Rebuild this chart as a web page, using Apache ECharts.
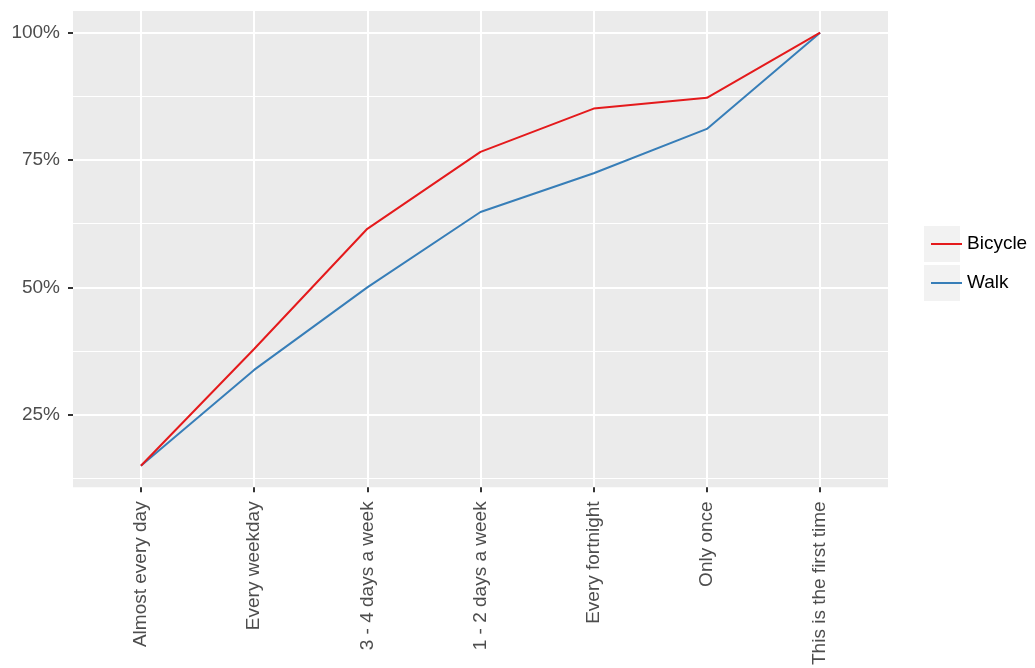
<!DOCTYPE html>
<html><head><meta charset="utf-8">
<script src="https://cdn.jsdelivr.net/npm/echarts@6/dist/echarts.min.js"></script>
<style>html,body{margin:0;padding:0;background:#fff}#c{width:1035px;height:668px}</style>
</head><body><div id="c"></div>
<script>
const categories = ["Almost every day","Every weekday","3 - 4 days a week","1 - 2 days a week","Every fortnight","Only once","This is the first time"];
const bicycle = [15, 37.9, 61.5, 76.6, 85.1, 87.2, 100];
const walk = [15, 33.8, 50, 64.8, 72.4, 81.1, 100];
const yMajor = [25, 50, 75, 100];
const yMinor = [12.5, 37.5, 62.5, 87.5];
const seriesNames = ["Bicycle", "Walk"];

const FONT = 'Liberation Sans, Arial, sans-serif';
const chart = echarts.init(document.getElementById('c'), null, {renderer: 'canvas'});
const xIdx = categories.map((c, i) => i);
const yMin = 10.75, yMax = 104.25;

chart.setOption({
  animation: false,
  textStyle: {fontFamily: FONT},
  grid: {left: 73, right: 147, top: 11, bottom: 179, show: true, backgroundColor: '#EBEBEB', borderWidth: 0, containLabel: false},
  legend: {
    orient: 'vertical', left: 926, top: 221, itemGap: 3, itemWidth: 31, itemHeight: 2,
    icon: 'rect',
    data: seriesNames,
    textStyle: {fontFamily: FONT, fontSize: 19, color: '#000', lineHeight: 36, padding: [0, 0, 0, 0]}
  },
  graphic: [
    {type: 'rect', shape: {x: 924, y: 226, width: 36, height: 36}, style: {fill: '#F2F2F2'}, z: 0},
    {type: 'rect', shape: {x: 924, y: 265, width: 36, height: 36}, style: {fill: '#F2F2F2'}, z: 0}
  ],
  xAxis: {
    type: 'value', min: -0.6, max: 6.6,
    axisLine: {show: false, onZero: false},
    axisTick: {show: true, customValues: xIdx, length: 5, lineStyle: {color: '#333', width: 2}},
    axisLabel: {customValues: xIdx, rotate: 90, margin: 14, fontSize: 19, color: '#4D4D4D', fontFamily: FONT,
      formatter: v => categories[Math.round(v)] || ''},
    splitLine: {show: true, lineStyle: {color: '#fff', width: 2}}
  },
  yAxis: [
    {type: 'value', min: yMin, max: yMax,
      axisLine: {show: false, onZero: false},
      axisTick: {show: true, customValues: yMajor, length: 5, lineStyle: {color: '#333', width: 2}},
      axisLabel: {customValues: yMajor, margin: 13, fontSize: 19, color: '#4D4D4D', fontFamily: FONT, formatter: v => v + '%'},
      splitLine: {show: true, lineStyle: {color: '#fff', width: 2}}
    },
    {type: 'value', min: yMin, max: yMax, position: 'left',
      axisLine: {show: false, onZero: false}, axisTick: {show: false, customValues: yMinor},
      axisLabel: {show: false, customValues: yMinor},
      splitLine: {show: true, lineStyle: {color: '#fff', width: 1}}
    }
  ],
  series: [
    {name: seriesNames[0], type: 'line', data: xIdx.map(i => [i, bicycle[i]]), symbol: 'none', lineStyle: {color: '#E41A1C', width: 2}, itemStyle: {color: '#E41A1C'}, z: 5},
    {name: seriesNames[1], type: 'line', data: xIdx.map(i => [i, walk[i]]), symbol: 'none', lineStyle: {color: '#377EB8', width: 2}, itemStyle: {color: '#377EB8'}, z: 4}
  ]
});
</script></body></html>
